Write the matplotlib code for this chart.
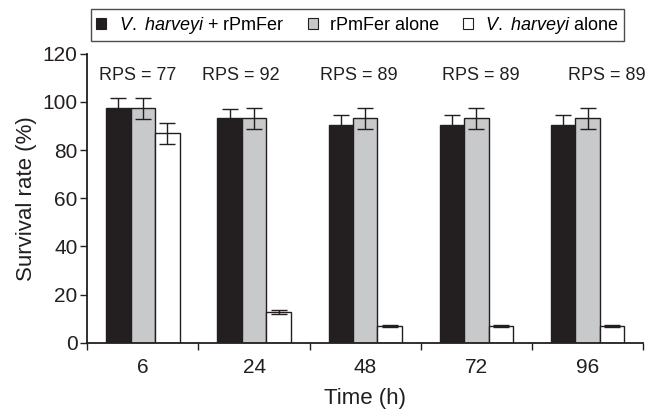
import matplotlib.pyplot as plt
import numpy as np
from matplotlib.patches import Patch

plt.rcParams['font.family'] = ['Liberation Sans', 'DejaVu Sans']
plt.rcParams['mathtext.fontset'] = 'custom'
plt.rcParams['mathtext.it'] = 'Liberation Sans:italic'
plt.rcParams['mathtext.rm'] = 'Liberation Sans'

# data
times = ["6", "24", "48", "72", "96"]
rps = [77, 92, 89, 89, 89]
vh_rpmfer = [97.3, 93.2, 90.4, 90.4, 90.4]
vh_rpmfer_err = [4.4, 4.0, 4.0, 4.0, 4.0]
rpmfer_alone = [97.3, 93.2, 93.2, 93.2, 93.2]
rpmfer_alone_err = [4.4, 4.4, 4.4, 4.4, 4.4]
vh_alone = [87.0, 12.8, 7.0, 7.0, 7.0]
vh_alone_err = [4.4, 0.8, 0.4, 0.4, 0.4]
labels = [r"$\it{V.}$ $\it{harveyi}$ + rPmFer", "rPmFer alone", r"$\it{V.}$ $\it{harveyi}$ alone"]

fig = plt.figure(figsize=(6.54, 4.11), dpi=100)
ax = fig.add_axes([0.1335, 0.166, 0.85, 0.703])

x = np.arange(len(times))
w = 0.22
series = [(vh_rpmfer, vh_rpmfer_err, "#231f20"),
          (rpmfer_alone, rpmfer_alone_err, "#c8c9cb"),
          (vh_alone, vh_alone_err, "white")]
for i, (vals, errs, col) in enumerate(series):
    ax.bar(x + (i - 1) * w, vals, w, color=col, edgecolor="#231f20", linewidth=1.0,
           yerr=errs, capsize=5.5, error_kw=dict(ecolor="#231f20", elinewidth=1.0, capthick=1.0),
           zorder=2)

# RPS annotations (small horizontal nudges to follow the reference)
rps_dx = [-0.05, -0.12, -0.06, 0.04, 0.17]
for xi, r, dx in zip(x, rps, rps_dx):
    ax.text(xi + dx, 111, f"RPS = {r}", ha="center", va="center", fontsize=13, color="#231f20")

ax.set_xlim(-0.5, len(times) - 0.5)
ax.set_ylim(0, 120)
ax.set_yticks(np.arange(0, 121, 20))
ax.set_xticks(np.arange(-0.5, len(times)), labels=[""] * (len(times) + 1))
ax.set_xticks(x, labels=times, minor=True)
ax.tick_params(axis="x", which="major", direction="out", length=5, width=1)
ax.tick_params(axis="x", which="minor", length=0, pad=11, labelsize=15)
ax.tick_params(axis="y", direction="out", length=5, width=1, labelsize=15, pad=2)
for s in ["top", "right"]:
    ax.spines[s].set_visible(False)
for s in ["left", "bottom"]:
    ax.spines[s].set_linewidth(1.3)
    ax.spines[s].set_color("#231f20")
ax.tick_params(colors="#231f20", which="both")
ax.set_xlabel("Time (h)", fontsize=16, labelpad=8, color="#231f20")
ax.set_ylabel("Survival rate (%)", fontsize=16, labelpad=4, color="#231f20")

handles = [Patch(facecolor=c, edgecolor="#231f20", linewidth=0.8) for _, _, c in series]
leg = fig.legend(handles, labels, ncol=3, loc="center", bbox_to_anchor=(0.5466, 0.939),
                 frameon=True, fancybox=False, edgecolor="#231f20", fontsize=13,
                 handlelength=0.55, handleheight=0.55, handletextpad=0.7, columnspacing=1.3,
                 borderpad=0.3, borderaxespad=0)
leg.get_frame().set_linewidth(1.0)

fig.savefig("out.png", dpi=100)
